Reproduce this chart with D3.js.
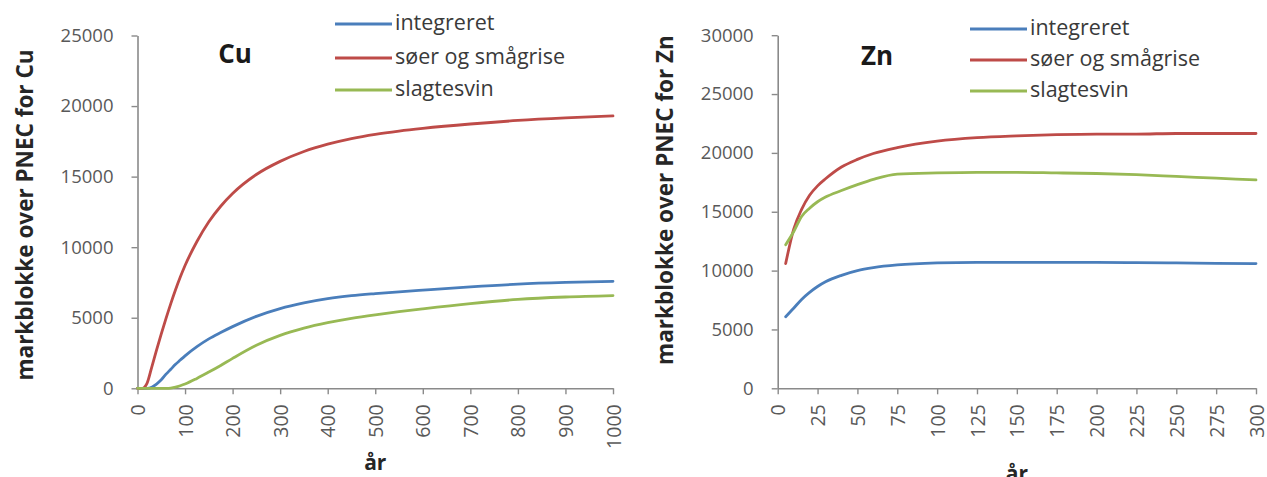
<!DOCTYPE html>
<html>
<head>
<meta charset="utf-8">
<script src="https://cdn.jsdelivr.net/npm/d3@7"></script>
<style>
  html, body { margin: 0; padding: 0; background: #ffffff; }
  svg { display: block; }
  text { font-family: "Open Sans", "DejaVu Sans", sans-serif; }
</style>
</head>
<body>
<svg id="chart" width="1267" height="477"></svg>
<script>
// ---------- DATA ----------
const seriesNames = ["integreret", "søer og smågrise", "slagtesvin"];

// Cu panel
const cuYears = [0, 10, 20, 30, 40, 50, 60, 70, 80, 90, 100, 125, 150, 175, 200, 250, 300, 350, 400, 450, 500, 550, 600, 700, 800, 900, 1000];
const cuIntegreret = [0, 0, 0, 80, 300, 600, 1000, 1350, 1700, 2000, 2300, 2950, 3500, 3950, 4370, 5100, 5650, 6050, 6350, 6560, 6710, 6840, 6960, 7190, 7380, 7500, 7580];
const cuSoer = [0, 0, 350, 1500, 2700, 3850, 4950, 6000, 6980, 7880, 8700, 10400, 11800, 12900, 13800, 15150, 16080, 16780, 17300, 17700, 18000, 18230, 18420, 18730, 18980, 19160, 19300];
const cuSlagtesvin = [0, 0, 0, 0, 0, 0, 0, 20, 80, 180, 300, 700, 1150, 1620, 2120, 3050, 3750, 4260, 4650, 4960, 5210, 5430, 5630, 6000, 6300, 6470, 6570];
const cuXTicks = [0, 100, 200, 300, 400, 500, 600, 700, 800, 900, 1000];
const cuYTicks = [0, 5000, 10000, 15000, 20000, 25000];

// Zn panel
const znYears = [5, 10, 15, 20, 25, 30, 40, 50, 60, 75, 100, 125, 150, 175, 200, 225, 250, 275, 300];
const znIntegreret = [6080, 6800, 7550, 8150, 8650, 9050, 9600, 10000, 10250, 10480, 10650, 10700, 10700, 10700, 10700, 10680, 10650, 10620, 10600];
const znSoer = [10600, 13500, 15200, 16400, 17200, 17800, 18800, 19450, 19950, 20450, 21000, 21300, 21450, 21550, 21600, 21600, 21650, 21650, 21650];
const znSlagtesvin = [12200, 13300, 14600, 15300, 15850, 16250, 16800, 17300, 17750, 18200, 18300, 18350, 18350, 18300, 18250, 18150, 18000, 17850, 17700];
const znXTicks = [0, 25, 50, 75, 100, 125, 150, 175, 200, 225, 250, 275, 300];
const znYTicks = [0, 5000, 10000, 15000, 20000, 25000, 30000];

// ---------- STYLE ----------
const colors = ["#4a7ebb", "#be4b48", "#98b954"];
const axisColor = "#8a8a8a";
const tickTextColor = "#595959";

const svg = d3.select("#chart");

function drawPanel(cfg) {
  const x = d3.scaleLinear().domain(cfg.xDomain).range([cfg.left, cfg.right]);
  const y = d3.scaleLinear().domain(cfg.yDomain).range([cfg.bottom, cfg.top]);
  const g = svg.append("g");

  // y axis
  const ya = g.append("g")
    .attr("transform", `translate(${cfg.left},0)`)
    .call(d3.axisLeft(y).tickValues(cfg.yTicks).tickSize(6).tickSizeOuter(0).tickPadding(18).tickFormat(d3.format("d")));
  ya.select(".domain").attr("stroke", axisColor).attr("stroke-width", 1.6);
  ya.selectAll(".tick line").attr("stroke", axisColor).attr("stroke-width", 1.4);
  ya.selectAll(".tick text").attr("fill", tickTextColor).style("font-size", "18.5px")
    .style("font-family", '"Open Sans", sans-serif');

  // x axis
  const xa = g.append("g")
    .attr("transform", `translate(0,${cfg.bottom})`)
    .call(d3.axisBottom(x).tickValues(cfg.xTicks).tickSize(6).tickSizeOuter(0).tickFormat(d3.format("d")));
  xa.select(".domain").attr("stroke", axisColor).attr("stroke-width", 1.6);
  xa.selectAll(".tick line").attr("stroke", axisColor).attr("stroke-width", 1.4);
  xa.selectAll(".tick text")
    .attr("fill", tickTextColor).style("font-size", "19.5px")
    .style("font-family", '"Open Sans", sans-serif')
    .attr("transform", "rotate(-90)")
    .attr("text-anchor", "end")
    .attr("x", -16).attr("y", 0).attr("dy", "0.36em");

  // lines
  const line = d3.line().x(d => x(d[0])).y(d => y(d[1])).curve(d3.curveMonotoneX);
  cfg.series.forEach((vals, i) => {
    const pts = cfg.xs.map((xv, j) => [xv, vals[j]]);
    g.append("path").datum(pts)
      .attr("fill", "none").attr("stroke", colors[i]).attr("stroke-width", 2.8)
      .attr("stroke-linejoin", "round").attr("stroke-linecap", "round")
      .attr("d", line);
  });

  // panel title
  g.append("text").text(cfg.title)
    .attr("x", cfg.titleX).attr("y", cfg.titleY)
    .attr("text-anchor", "middle")
    .style("font-size", "26px").style("font-weight", "bold").attr("fill", "#1a1a1a");

  // y axis title
  g.append("text").text(cfg.yTitle)
    .attr("transform", `translate(${cfg.yTitleX},${cfg.yTitleY}) rotate(-90)`)
    .attr("text-anchor", "middle")
    .style("font-size", "22.5px").style("font-weight", "bold").attr("fill", "#262626");

  // x axis title
  g.append("text").text("år")
    .attr("x", (cfg.left + cfg.right) / 2).attr("y", cfg.xTitleY)
    .attr("text-anchor", "middle")
    .style("font-size", "21px").style("font-weight", "bold").attr("fill", "#262626");

  // legend
  seriesNames.forEach((name, i) => {
    const ly = cfg.legendY[i];
    g.append("line")
      .attr("x1", cfg.legendX).attr("x2", cfg.legendX + 57)
      .attr("y1", ly).attr("y2", ly)
      .attr("stroke", colors[i]).attr("stroke-width", 2.8);
    g.append("text").text(name)
      .attr("x", cfg.legendX + 60).attr("y", ly).attr("dy", "0.3em")
      .style("font-size", "21.5px").attr("fill", "#3a3a3a");
  });
}

drawPanel({
  xDomain: [0, 1000], yDomain: [0, 25000],
  left: 137.5, right: 613, top: 35.5, bottom: 388.3,
  xTicks: cuXTicks, yTicks: cuYTicks,
  xs: cuYears, series: [cuIntegreret, cuSoer, cuSlagtesvin],
  title: "Cu", titleX: 235, titleY: 63,
  yTitle: "markblokke over PNEC for Cu", yTitleX: 33, yTitleY: 215,
  xTitleY: 470,
  legendX: 335, legendY: [24, 58, 90]
});

drawPanel({
  xDomain: [0, 300], yDomain: [0, 30000],
  left: 777.7, right: 1256, top: 35.2, bottom: 388.3,
  xTicks: znXTicks, yTicks: znYTicks,
  xs: znYears, series: [znIntegreret, znSoer, znSlagtesvin],
  title: "Zn", titleX: 877, titleY: 65,
  yTitle: "markblokke over PNEC for Zn", yTitleX: 673, yTitleY: 200,
  xTitleY: 481,
  legendX: 970, legendY: [29, 60, 91]
});
</script>
</body>
</html>
